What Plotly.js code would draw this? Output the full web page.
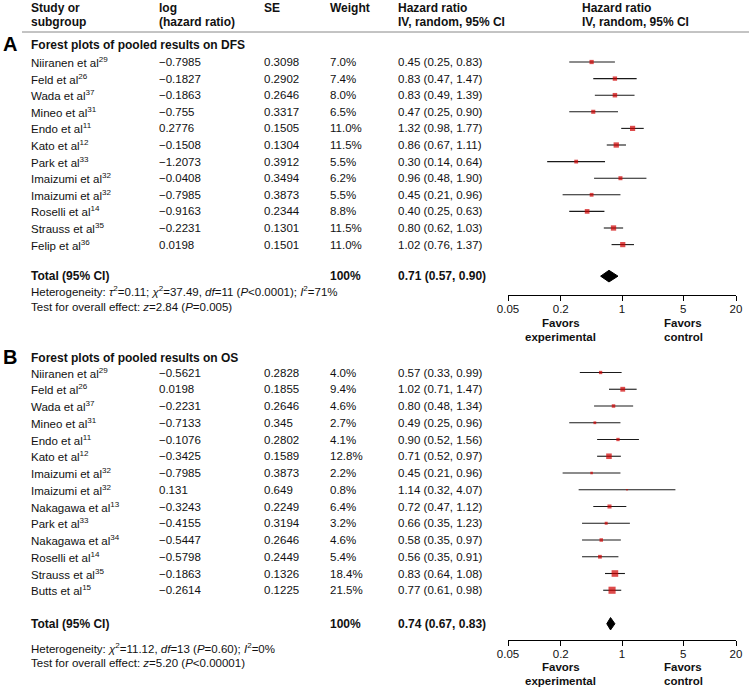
<!DOCTYPE html>
<html><head><meta charset="utf-8">
<script src="https://cdn.plot.ly/plotly-3.0.1.min.js"></script>
<style>html,body{margin:0;padding:0;background:#fff}#chart{width:749px;height:687px}</style>
</head><body><div id="chart"></div><script>
// ---------- Data: panel A (DFS) ----------
const studiesA = ["Niiranen et al","Feld et al","Wada et al","Mineo et al","Endo et al","Kato et al","Park et al","Imaizumi et al","Imaizumi et al","Roselli et al","Strauss et al","Felip et al"];
const refsA = ["29","26","37","31","11","12","33","32","32","14","35","36"];
const logHrA = [-0.7985,-0.1827,-0.1863,-0.755,0.2776,-0.1508,-1.2073,-0.0408,-0.7985,-0.9163,-0.2231,0.0198];
const seA = [0.3098,0.2902,0.2646,0.3317,0.1505,0.1304,0.3912,0.3494,0.3873,0.2344,0.1301,0.1501];
const weightA = [7.0,7.4,8.0,6.5,11.0,11.5,5.5,6.2,5.5,8.8,11.5,11.0];
const hrA = [0.45,0.83,0.83,0.47,1.32,0.86,0.30,0.96,0.45,0.40,0.80,1.02];
const loA = [0.25,0.47,0.49,0.25,0.98,0.67,0.14,0.48,0.21,0.25,0.62,0.76];
const hiA = [0.83,1.47,1.39,0.90,1.77,1.11,0.64,1.90,0.96,0.63,1.03,1.37];
const totalA = [0.71,0.57,0.90];   // HR, lower, upper
const totalWeightA = "100%";
// ---------- Data: panel B (OS) ----------
const studiesB = ["Niiranen et al","Feld et al","Wada et al","Mineo et al","Endo et al","Kato et al","Imaizumi et al","Imaizumi et al","Nakagawa et al","Park et al","Nakagawa et al","Roselli et al","Strauss et al","Butts et al"];
const refsB = ["29","26","37","31","11","12","32","32","13","33","34","14","35","15"];
const logHrB = [-0.5621,0.0198,-0.2231,-0.7133,-0.1076,-0.3425,-0.7985,0.131,-0.3243,-0.4155,-0.5447,-0.5798,-0.1863,-0.2614];
const seB = [0.2828,0.1855,0.2646,0.345,0.2802,0.1589,0.3873,0.649,0.2249,0.3194,0.2646,0.2449,0.1326,0.1225];
const weightB = [4.0,9.4,4.6,2.7,4.1,12.8,2.2,0.8,6.4,3.2,4.6,5.4,18.4,21.5];
const hrB = [0.57,1.02,0.80,0.49,0.90,0.71,0.45,1.14,0.72,0.66,0.58,0.56,0.83,0.77];
const loB = [0.33,0.71,0.48,0.25,0.52,0.52,0.21,0.32,0.47,0.35,0.35,0.35,0.64,0.61];
const hiB = [0.99,1.47,1.34,0.96,1.56,0.97,0.96,4.07,1.12,1.23,0.97,0.91,1.08,0.98];
const totalB = [0.74,0.67,0.83];
const totalWeightB = "100%";
// ---------- Axis ticks ----------
const tickVals = [0.05,0.2,1,5,20];
const tickText = ["0.05","0.2","1","5","20"];

// ---------- Layout geometry (pixels) ----------
const W = 749, H = 687;
const FONT = "Liberation Sans, Arial, Helvetica, sans-serif";
const TXT = "#111";
const FS = 11.5, FSB = 12;
const px = p => p / W;
const py = p => 1 - p / H;
const colX = {study: 29, log: 157, se: 262, weight: 328, hr: 396, plot: 580};
const plotL = 508, plotR = 736;
const A = {top: 32, bottom: 295, row0: 62, step: 16.6, total: 12.9};
const B = {top: 358, bottom: 640, row0: 372.5, step: 16.75, total: 15.0};
const rowOf = (g, p) => (p - g.row0) / g.step;

const fmt = v => String(v).replace("-", "\u2212");
const ci = (h, l, u) => h.toFixed(2) + " (" + l.toFixed(2) + ", " + u.toFixed(2) + ")";

const annotations = [];
function txt(x, y, text, opts) {
  annotations.push(Object.assign({
    x: px(x), xref: "paper", y: y, yref: "paper", text: text, showarrow: false,
    xanchor: "left", yanchor: "middle", font: {family: FONT, size: FS, color: TXT}
  }, opts || {}));
}
const bold = {font: {family: FONT, size: FSB, color: TXT}};

// header
txt(colX.study, py(8), "<b>Study or</b>", bold);
txt(colX.study, py(22), "<b>subgroup</b>", bold);
txt(colX.log, py(8), "<b>log</b>", bold);
txt(colX.log, py(22), "<b>(hazard ratio)</b>", bold);
txt(colX.se, py(8), "<b>SE</b>", bold);
txt(colX.weight, py(8), "<b>Weight</b>", bold);
txt(colX.hr, py(8), "<b>Hazard ratio</b>", bold);
txt(colX.hr, py(22), "<b>IV, random, 95% CI</b>", bold);
txt(colX.plot, py(8), "<b>Hazard ratio</b>", bold);
txt(colX.plot, py(22), "<b>IV, random, 95% CI</b>", bold);

function panelText(g, yref, letter, headingY, heading, studies, refs, logs, ses, ws, hr, lo, hi, tot, totW, het, test, hetY, testY) {
  txt(1, py(headingY - 1), "<b>" + letter + "</b>", {font: {family: FONT, size: 20, color: "#000"}});
  txt(colX.study, py(headingY), "<b>" + heading + "</b>", bold);
  studies.forEach((s, i) => {
    const o = {yref: yref};
    txt(colX.study, i, s + "<sup>" + refs[i] + "</sup>", o);
    txt(colX.log, i, fmt(logs[i]), o);
    txt(colX.se, i, fmt(ses[i]), o);
    txt(colX.weight, i, ws[i].toFixed(1) + "%", o);
    txt(colX.hr, i, ci(hr[i], lo[i], hi[i]), o);
  });
  const o = {yref: yref, font: bold.font};
  txt(colX.study, g.total, "<b>Total (95% CI)</b>", o);
  txt(colX.weight, g.total, "<b>" + totW + "</b>", o);
  txt(colX.hr, g.total, "<b>" + ci(tot[0], tot[1], tot[2]) + "</b>", o);
  txt(colX.study, py(hetY), het);
  txt(colX.study, py(testY), test);
}

panelText(A, "y", "A", 45, "Forest plots of pooled results on DFS", studiesA, refsA, logHrA, seA, weightA, hrA, loA, hiA, totalA, totalWeightA,
  "Heterogeneity: <i>\u03c4</i><sup>2</sup>=0.11; <i>\u03c7</i><sup>2</sup>=37.49, <i>df</i>=11 (<i>P</i>&lt;0.0001); <i>I</i><sup>2</sup>=71%",
  "Test for overall effect: <i>z</i>=2.84 (<i>P</i>=0.005)", 291, 307);
panelText(B, "y2", "B", 358, "Forest plots of pooled results on OS", studiesB, refsB, logHrB, seB, weightB, hrB, loB, hiB, totalB, totalWeightB,
  "Heterogeneity: <i>\u03c7</i><sup>2</sup>=11.12, <i>df</i>=13 (<i>P</i>=0.60); <i>I</i><sup>2</sup>=0%",
  "Test for overall effect: <i>z</i>=5.20 (<i>P</i>&lt;0.00001)", 648, 663);

// favors labels (one annotation per line)
const favFont = {family: FONT, size: 11.5, color: TXT};
[["x", 323], ["x2", 667]].forEach(([xr, y]) => {
  [[0.2, "Favors", 0], [0.2, "experimental", 14], [5, "Favors", 0], [5, "control", 14]].forEach(([v, t, dy]) => {
    annotations.push({x: Math.log10(v), xref: xr, y: py(y + dy), yref: "paper", text: "<b>" + t + "</b>", showarrow: false,
      xanchor: "center", yanchor: "middle", font: favFont});
  });
});

// ---------- Traces ----------
function ciTrace(lo, hi, xa, ya) {
  const xs = [], ys = [];
  lo.forEach((l, i) => { xs.push(l, hi[i], null); ys.push(i, i, null); });
  return {x: xs, y: ys, xaxis: xa, yaxis: ya, mode: "lines", line: {color: "#1a1a1a", width: 1.1}, hoverinfo: "skip", cliponaxis: false};
}
function ptTrace(hr, w, xa, ya) {
  return {x: hr, y: hr.map((_, i) => i), xaxis: xa, yaxis: ya, mode: "markers",
    marker: {symbol: "square", color: "#d00000", size: w.map(v => 1.45 * Math.sqrt(v) + 0.4), line: {width: 0}}, hoverinfo: "skip"};
}
function diamond(t, row, h, xa, ya) {
  return {x: [t[1], t[0], t[2], t[0], t[1]], y: [row, row - h, row, row + h, row], xaxis: xa, yaxis: ya,
    mode: "lines", fill: "toself", fillcolor: "#000", line: {color: "#000", width: 1}, hoverinfo: "skip"};
}
const data = [
  ciTrace(loA, hiA, "x", "y"), ptTrace(hrA, weightA, "x", "y"), diamond(totalA, A.total, 0.35, "x", "y"),
  ciTrace(loB, hiB, "x2", "y2"), ptTrace(hrB, weightB, "x2", "y2"), diamond(totalB, B.total, 0.37, "x2", "y2")
];

const xBase = {
  type: "log", range: [Math.log10(0.05), Math.log10(20)], domain: [px(plotL), px(plotR)],
  showgrid: false, zeroline: false, fixedrange: true
};
const xMain = ya => Object.assign({}, xBase, {
  anchor: ya, showline: true, linecolor: "#000", linewidth: 1, ticks: "outside", ticklen: 5, tickwidth: 1, tickcolor: "#000",
  tickvals: tickVals, ticktext: tickText, tickfont: {family: FONT, size: FS, color: TXT}, ticklabelstandoff: -2
});
const xOver = (ov, ya) => Object.assign({}, xBase, {
  overlaying: ov, anchor: ya, showline: false, ticks: "inside", ticklen: 5, tickwidth: 1, tickcolor: "#000",
  tickvals: tickVals, showticklabels: false
});
const yFor = g => ({
  domain: [py(g.bottom), py(g.top)], range: [rowOf(g, g.bottom), rowOf(g, g.top)],
  visible: false, showgrid: false, zeroline: false, fixedrange: true
});

const layout = {
  width: W, height: H, margin: {l: 0, r: 0, t: 0, b: 0}, showlegend: false,
  paper_bgcolor: "#fff", plot_bgcolor: "rgba(0,0,0,0)",
  xaxis: xMain("y"), xaxis2: xMain("y2"), xaxis3: xOver("x", "y"), xaxis4: xOver("x2", "y2"),
  yaxis: yFor(A), yaxis2: yFor(B),
  annotations: annotations,
  shapes: [
    {type: "line", xref: "paper", yref: "paper", x0: px(22), x1: 1, y0: py(A.top), y1: py(A.top), line: {color: "#888", width: 1}},
    {type: "line", xref: "x", yref: "y domain", x0: 0, x1: 0, y0: 0, y1: 1, line: {color: "#000", width: 1}},
    {type: "line", xref: "x2", yref: "y2 domain", x0: 0, x1: 0, y0: 0, y1: 1, line: {color: "#000", width: 1}}
  ]
};
Plotly.newPlot("chart", data, layout, {staticPlot: true, displayModeBar: false});
</script></body></html>
